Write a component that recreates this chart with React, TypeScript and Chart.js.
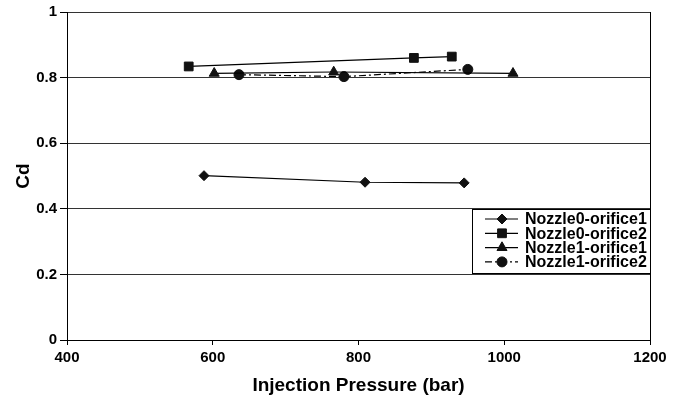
import React, { useEffect, useRef } from "react";
import { Chart, registerables } from "chart.js";
import { drawPoint } from "chart.js/helpers";

Chart.register(...registerables);

const seriesLabels = ["Nozzle0-orifice1", "Nozzle0-orifice2", "Nozzle1-orifice1", "Nozzle1-orifice2"];
const n0o1X = [588, 809, 945];
const n0o1Y = [0.501, 0.481, 0.479];
const n0o2X = [567, 876, 928];
const n0o2Y = [0.834, 0.860, 0.864];
const n1o1X = [602, 766, 1012];
const n1o1Y = [0.813, 0.817, 0.813];
const n1o2X = [636, 780, 950];
const n1o2Y = [0.809, 0.803, 0.825];
const xTicks = [400, 600, 800, 1000, 1200];
const yTicks = [0, 0.2, 0.4, 0.6, 0.8, 1];

const FONT = "'Liberation Sans', Arial, sans-serif";

const zip = (xs: number[], ys: number[]) => xs.map((x, i) => ({ x, y: ys[i] }));

const legendPlugin = {
  id: "boxLegend",
  afterDraw(chart: any) {
    const ctx = chart.ctx;
    const area = chart.chartArea;
    const bx = 472, by = 209, bw = Math.round(area.right) - 472, bh = 64;
    ctx.save();
    ctx.fillStyle = "#fff";
    ctx.fillRect(bx, by, bw, bh);
    ctx.strokeStyle = "#000";
    ctx.lineWidth = 1;
    ctx.strokeRect(bx + 0.5, by + 0.5, bw, bh);
    ctx.font = `bold 16px ${FONT}`;
    ctx.textBaseline = "middle";
    ctx.textAlign = "left";
    chart.data.datasets.forEach((ds: any, i: number) => {
      const y = by + 10 + i * 14.3;
      ctx.save();
      ctx.strokeStyle = "#000";
      ctx.lineWidth = 1.2;
      ctx.setLineDash(ds.borderDash || []);
      ctx.beginPath();
      ctx.moveTo(485, y);
      ctx.lineTo(518, y);
      ctx.stroke();
      ctx.restore();
      ctx.fillStyle = "#111";
      ctx.strokeStyle = "#111";
      drawPoint(ctx, { pointStyle: ds.pointStyle, radius: ds.pointRadius, rotation: 0, borderWidth: 1 }, 502, y);
      ctx.fillStyle = "#000";
      ctx.fillText(ds.label, 525, y + 1);
    });
    // right border of plot
    ctx.strokeStyle = "#000";
    ctx.lineWidth = 1;
    ctx.beginPath();
    ctx.moveTo(Math.round(area.right) + 0.5, area.top);
    ctx.lineTo(Math.round(area.right) + 0.5, area.bottom + 4);
    ctx.stroke();
    ctx.restore();
  },
};

export default function App() {
  const ref = useRef<HTMLCanvasElement | null>(null);
  useEffect(() => {
    document.body.style.margin = "0";
    const mk = (i: number, xs: number[], ys: number[], style: string, r: number, dash?: number[]) => ({
      label: seriesLabels[i],
      data: zip(xs, ys),
      showLine: true,
      borderColor: "#000",
      backgroundColor: "#000",
      borderWidth: 1.2,
      borderDash: dash || [],
      pointStyle: style,
      pointRadius: r,
      pointBackgroundColor: "#111",
      pointBorderColor: "#111",
      pointBorderWidth: 1,
    });
    const chart = new Chart(ref.current!, {
      type: "scatter",
      data: {
        datasets: [
          mk(0, n0o1X, n0o1Y, "rectRot", 5),
          mk(1, n0o2X, n0o2Y, "rect", 6.2),
          mk(2, n1o1X, n1o1Y, "triangle", 5.8),
          mk(3, n1o2X, n1o2Y, "circle", 5, [7, 3, 2, 3]),
        ] as any,
      },
      options: {
        animation: false,
        responsive: false,
        maintainAspectRatio: false,
        layout: { padding: { left: 0, right: 30, top: 12, bottom: 0 } },
        plugins: { legend: { display: false }, tooltip: { enabled: false } },
        scales: {
          x: {
            type: "linear",
            min: 400,
            max: 1200,
            afterBuildTicks: (s: any) => { s.ticks = xTicks.map((v) => ({ value: v })); },
            afterFit: (s: any) => { s.height = 57; },
            grid: { drawOnChartArea: false, drawTicks: true, tickLength: 5, color: "#000" },
            border: { color: "#000", width: 1 },
            ticks: {
              color: "#000",
              padding: 4,
              font: { family: FONT, size: 15, weight: "bold" },
              maxRotation: 0,
              callback: (v: any) => String(v),
            },
            title: {
              display: true,
              text: "Injection Pressure (bar)",
              color: "#000",
              font: { family: FONT, size: 19, weight: "bold" },
              padding: { top: 0, bottom: 0 },
            },
          },
          y: {
            type: "linear",
            min: 0,
            max: 1,
            afterBuildTicks: (s: any) => { s.ticks = yTicks.map((v) => ({ value: v })); },
            afterFit: (s: any) => { s.width = 67; },
            grid: { color: "#333", lineWidth: 1, drawTicks: true, tickLength: 7, tickColor: "#000" },
            border: { color: "#000", width: 1 },
            ticks: {
              color: "#000",
              padding: 3,
              font: { family: FONT, size: 15, weight: "bold" },
              callback: (v: any) => String(Math.round(Number(v) * 10) / 10),
            },
            title: {
              display: true,
              text: "Cd",
              color: "#000",
              font: { family: FONT, size: 19, weight: "bold" },
              padding: { top: 12, bottom: 0 },
            },
          },
        },
      } as any,
      plugins: [legendPlugin],
    });
    return () => chart.destroy();
  }, []);
  return (
    <div style={{ position: "absolute", left: 0, top: 0, width: 680, height: 397, background: "#fff" }}>
      <canvas ref={ref} width={680} height={397} style={{ width: 680, height: 397 }} />
    </div>
  );
}
